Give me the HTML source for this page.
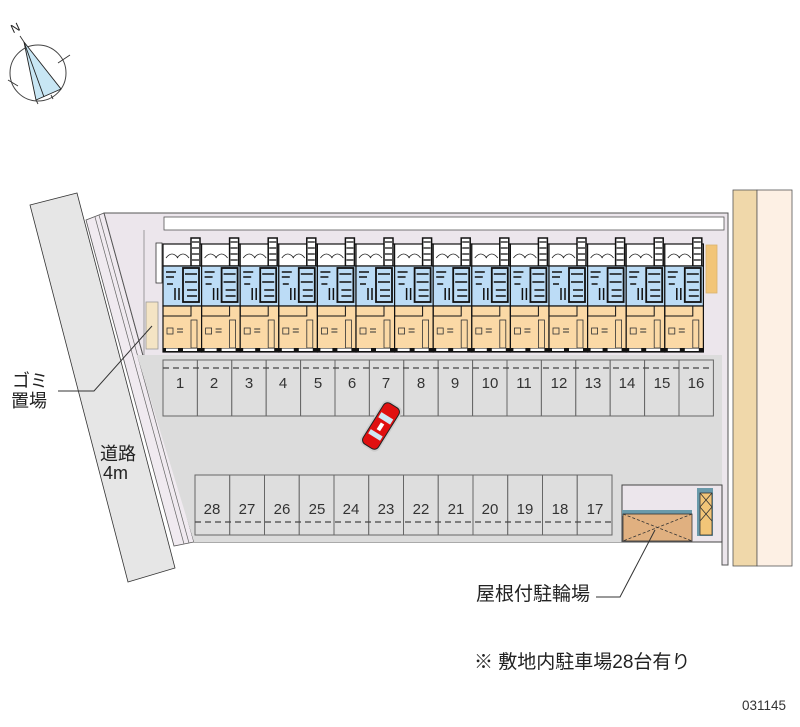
<!DOCTYPE html>
<html><head><meta charset="utf-8"><style>
html,body{margin:0;padding:0;background:#fff;width:800px;height:727px;overflow:hidden}
svg{display:block}
text{font-family:"Liberation Sans","Noto Sans CJK JP",sans-serif}
</style></head><body>
<svg width="800" height="727" viewBox="0 0 800 727" xmlns="http://www.w3.org/2000/svg">
<defs>
<g id="unit">
 <rect x="0" y="0" width="38.6" height="22" fill="#fff" stroke="#111" stroke-width="1.2"/>
 <path d="M3 14 q6 -8 12 0 M14 14 q6 -8 12 0" fill="none" stroke="#222" stroke-width="0.8"/>
 <rect x="28" y="-6" width="9" height="28" fill="#fff" stroke="#111" stroke-width="1.5"/>
 <path d="M29 -2h7M29 4h7M29 10h7M29 16h7" stroke="#111" stroke-width="1.2"/>
 <rect x="0" y="22" width="38.6" height="40" fill="#bcdcf6" stroke="#111" stroke-width="1.2"/>
 <rect x="20" y="24" width="16" height="34" fill="none" stroke="#111" stroke-width="1.8"/>
 <path d="M3 28h10M3 33h8M22 30h12M22 38h12M24 46h10M24 52h10M4 40h6M12 44v12M16 44v12" stroke="#111" stroke-width="1.5"/>
 <rect x="0" y="62" width="38.6" height="46" fill="#fbd9a6" stroke="#111" stroke-width="1.2"/>
 <path d="M0 62v10h28v-10" fill="none" stroke="#111" stroke-width="1"/>
 <rect x="28" y="76" width="6" height="28" fill="none" stroke="#333" stroke-width="0.8"/>
 <rect x="4" y="84" width="6" height="6" fill="none" stroke="#333" stroke-width="0.8"/>
 <path d="M14 85h6M14 88h6" stroke="#333" stroke-width="1"/>
 <rect x="0" y="104" width="38.6" height="4" fill="#111"/>
 <rect x="3" y="104.5" width="12" height="2.5" fill="#fff"/>
 <rect x="20" y="104.5" width="14" height="2.5" fill="#fff"/>
</g>
</defs>

<!-- compass -->
<circle cx="38" cy="73" r="28" fill="none" stroke="#444" stroke-width="1"/>
<polygon points="24,42 36,100 61,89" fill="#c8e6f4" stroke="#222" stroke-width="0.9"/>
<path d="M24,42 L44,97" stroke="#222" stroke-width="0.9"/>
<path d="M20,36 L24,42 M8,80 L18,86 M58,63 L70,55 M36,100 l2,4 M51,95 l2,4" stroke="#333" stroke-width="0.9"/>
<text x="11" y="32" font-size="12" font-family="Liberation Serif,serif" transform="rotate(-25 15 28)" fill="#222">N</text>

<!-- left road -->
<polygon points="30,205 77,193 175,568 128,582" fill="#e6e6e6" stroke="#333" stroke-width="0.8"/>
<polygon points="86,220 104,213 194,542 174,546" fill="#f0eaf0" stroke="#555" stroke-width="0.8"/>
<path d="M95,217 L184,544 M99,215 L189,543" stroke="#666" stroke-width="0.7"/>

<!-- lot -->
<polygon points="104,213 728,213 728,565 722,565 722,542 194,542" fill="#ece6ec" stroke="#555" stroke-width="1"/>
<polygon points="137,355 722,355 722,542 194,542" fill="#dcdcdc"/>
<rect x="164" y="217" width="560" height="13" fill="#fff" stroke="#555" stroke-width="0.8"/>
<path d="M144,230 V355" stroke="#888" stroke-width="0.8"/>

<!-- right road -->
<rect x="733" y="190" width="24" height="376" fill="#f0d8aa" stroke="#555" stroke-width="0.8"/>
<rect x="757" y="190" width="35" height="376" fill="#fdf0e4" stroke="#555" stroke-width="0.8"/>

<rect x="146" y="302" width="12" height="47" fill="#f4e4c4" stroke="#999" stroke-width="0.8"/>
<rect x="156" y="243" width="6" height="40" fill="#fff" stroke="#333" stroke-width="0.8"/>
<rect x="706" y="245" width="11" height="48" fill="#f2c578" stroke="#d9b26e" stroke-width="0.8"/>

<g transform="translate(163,244)">
<use href="#unit" x="0"/><use href="#unit" x="38.6"/><use href="#unit" x="77.2"/><use href="#unit" x="115.8"/>
<use href="#unit" x="154.4"/><use href="#unit" x="193"/><use href="#unit" x="231.6"/><use href="#unit" x="270.2"/>
<use href="#unit" x="308.8"/><use href="#unit" x="347.4"/><use href="#unit" x="386"/><use href="#unit" x="424.6"/>
<use href="#unit" x="463.2"/><use href="#unit" x="501.8"/>
</g>

<g fill="#dedede" stroke="#666" stroke-width="1">
<rect x="163" y="360" width="34.4" height="56"/><rect x="197.4" y="360" width="34.4" height="56"/>
<rect x="231.8" y="360" width="34.4" height="56"/><rect x="266.2" y="360" width="34.4" height="56"/>
<rect x="300.6" y="360" width="34.4" height="56"/><rect x="335" y="360" width="34.4" height="56"/>
<rect x="369.4" y="360" width="34.4" height="56"/><rect x="403.8" y="360" width="34.4" height="56"/>
<rect x="438.2" y="360" width="34.4" height="56"/><rect x="472.6" y="360" width="34.4" height="56"/>
<rect x="507" y="360" width="34.4" height="56"/><rect x="541.4" y="360" width="34.4" height="56"/>
<rect x="575.8" y="360" width="34.4" height="56"/><rect x="610.2" y="360" width="34.4" height="56"/>
<rect x="644.6" y="360" width="34.4" height="56"/><rect x="679" y="360" width="34.4" height="56"/>
</g>
<path d="M163,368 H713" stroke="#444" stroke-width="1.2" stroke-dasharray="6,4"/>
<g font-size="15" fill="#333" text-anchor="middle">
<text x="180" y="388">1</text><text x="214" y="388">2</text><text x="249" y="388">3</text><text x="283" y="388">4</text>
<text x="318" y="388">5</text><text x="352" y="388">6</text><text x="386" y="388">7</text><text x="421" y="388">8</text>
<text x="455" y="388">9</text><text x="490" y="388">10</text><text x="524" y="388">11</text><text x="559" y="388">12</text>
<text x="593" y="388">13</text><text x="627" y="388">14</text><text x="662" y="388">15</text><text x="696" y="388">16</text>
</g>

<g fill="#dedede" stroke="#666" stroke-width="1">
<rect x="195" y="475" width="34.75" height="60"/><rect x="229.75" y="475" width="34.75" height="60"/>
<rect x="264.5" y="475" width="34.75" height="60"/><rect x="299.25" y="475" width="34.75" height="60"/>
<rect x="334" y="475" width="34.75" height="60"/><rect x="368.75" y="475" width="34.75" height="60"/>
<rect x="403.5" y="475" width="34.75" height="60"/><rect x="438.25" y="475" width="34.75" height="60"/>
<rect x="473" y="475" width="34.75" height="60"/><rect x="507.75" y="475" width="34.75" height="60"/>
<rect x="542.5" y="475" width="34.75" height="60"/><rect x="577.25" y="475" width="34.75" height="60"/>
</g>
<path d="M195,522 H612" stroke="#444" stroke-width="1.2" stroke-dasharray="6,4"/>
<g font-size="15" fill="#333" text-anchor="middle">
<text x="212" y="514">28</text><text x="247" y="514">27</text><text x="282" y="514">26</text><text x="317" y="514">25</text>
<text x="351" y="514">24</text><text x="386" y="514">23</text><text x="421" y="514">22</text><text x="456" y="514">21</text>
<text x="490" y="514">20</text><text x="525" y="514">19</text><text x="560" y="514">18</text><text x="595" y="514">17</text>
</g>

<rect x="622" y="485" width="100" height="57" fill="#ece6ec" stroke="#444" stroke-width="1"/>
<rect x="622" y="510" width="70" height="6" fill="#6a9aaa"/>
<rect x="623" y="514" width="69" height="27" fill="#e0b080" stroke="#333" stroke-width="0.8"/>
<path d="M623,514 L692,541 M692,514 L623,541" stroke="#333" stroke-width="0.8" stroke-dasharray="3,2"/>
<rect x="697" y="488" width="16" height="48" fill="#6a9aaa"/>
<rect x="700" y="493" width="12" height="42" fill="#f2c578" stroke="#333" stroke-width="0.8"/>
<path d="M700,493 l12,14 M712,493 l-12,14 M700,507 l12,14 M712,507 l-12,14" stroke="#333" stroke-width="0.8"/>

<g transform="translate(381,426) rotate(32)">
<rect x="-11" y="-26" width="22" height="52" rx="6" fill="#ccc"/>
<rect x="-9" y="-24" width="18" height="48" rx="5" fill="#e01010" stroke="#222" stroke-width="1"/>
<rect x="-7" y="-12" width="14" height="6" fill="#cfe8f4"/>
<rect x="-7" y="8" width="14" height="5" fill="#cfe8f4"/>
<rect x="-2" y="-3" width="4" height="8" fill="#fff"/>
</g>

<path d="M58,391 H94 L152,326" fill="none" stroke="#333" stroke-width="1"/>
<path d="M596,597 H620 L655,530" fill="none" stroke="#333" stroke-width="1"/>

<g font-size="18" fill="#222">
<text x="12" y="387">ゴミ</text>
<text x="11" y="407">置場</text>
<text x="100" y="460">道路</text>
<text x="103" y="479">4m</text>
<text x="476" y="600" font-size="19">屋根付駐輪場</text>
<text x="474" y="668" font-size="19">※ 敷地内駐車場28台有り</text>
</g>
<text x="742" y="710" font-size="13.5" fill="#333">031145</text>
</svg>
</body></html>
